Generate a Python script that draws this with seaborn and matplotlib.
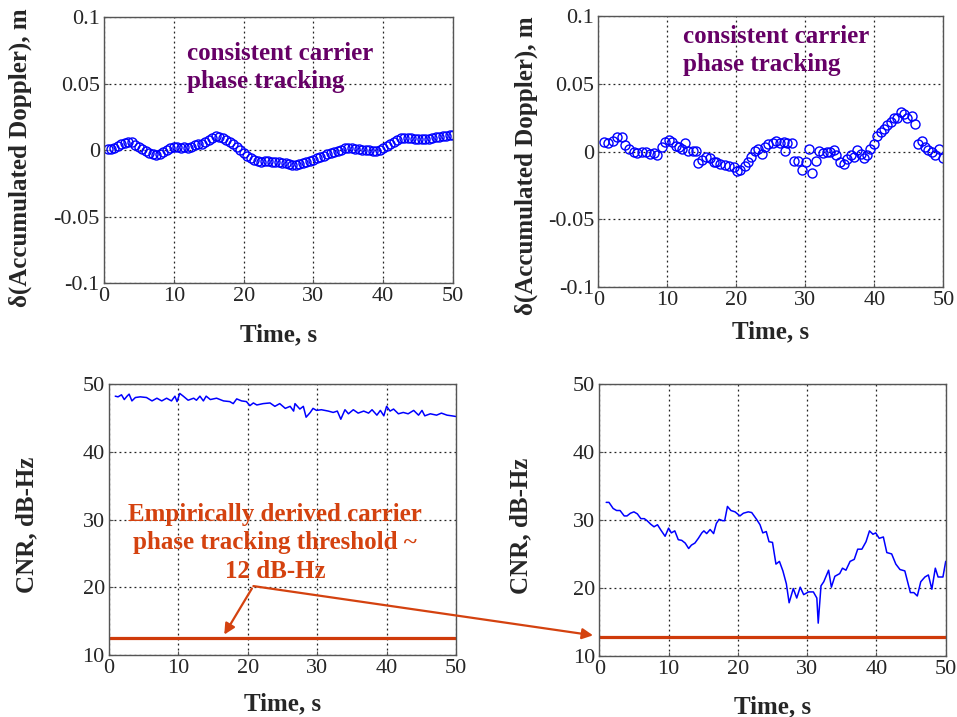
import numpy as np
import matplotlib
matplotlib.use("Agg")
import matplotlib.pyplot as plt
from matplotlib.patches import ConnectionPatch
import seaborn as sns

sns.set_style("ticks")
plt.rcParams["font.family"] = ["Liberation Serif", "DejaVu Serif"]
plt.rcParams["axes.unicode_minus"] = False

# 左上: 载波相位残差 (0.5 s 采样)
t_doppler_a = np.arange(0.5, 50.01, 0.5)
doppler_a = [
    1.0, 1.2, 1.8, 3.0, 4.5, 5.8, 6.5, 6.0, 4.2, 2.5,
    1.0, -0.5, -1.8, -3.0, -3.8, -3.0, -1.5, 0.0, 1.5, 2.8,
    2.5, 2.0, 2.2, 1.8, 2.8, 3.8, 4.5, 5.0, 6.0, 7.5,
    9.5, 10.5, 10.0, 9.2, 8.0, 6.5, 4.8, 2.8, 0.5, -2.0,
    -4.0, -5.8, -7.0, -8.0, -8.5, -8.2, -8.0, -8.5, -8.8, -8.5,
    -9.2, -9.8, -10.5, -11.0, -10.8, -10.2, -9.8, -9.0, -8.2, -7.0,
    -5.8, -4.8, -4.0, -3.0, -2.2, -1.5, -0.5, 0.5, 1.5, 2.0,
    1.8, 1.2, 0.8, 0.5, 0.2, 0.0, -0.5, -0.8, 0.0, 1.8,
    3.5, 5.0, 6.5, 8.0, 9.0, 9.5, 9.2, 9.0, 8.8, 8.5,
    8.2, 8.5, 8.8, 9.0, 9.8, 10.2, 10.8, 11.0, 11.5, 11.2,
]
doppler_a = np.array(doppler_a) * 1e-3

# 右上
t_doppler_b = [
    0.8, 1.45, 2.1, 2.75, 3.4, 3.9, 4.5, 5.1, 5.65, 6.3, 6.9, 7.5, 8.1, 8.55,
    9.2, 9.7, 10.2, 10.7, 11.25, 11.7, 12.2, 12.55, 13.0, 13.7, 14.15, 14.5,
    15.0, 15.6, 16.2, 16.7, 17.1, 17.7, 18.4, 19.0, 19.6, 20.1, 20.6, 21.3,
    21.7, 22.2, 22.7, 23.2, 23.7, 24.2, 24.6, 25.3, 25.8, 26.3, 26.9, 27.05,
    27.4, 28.0, 28.4, 29.0, 29.5, 30.1, 30.6, 31.0, 31.5, 32.0, 32.6, 33.1,
    33.6, 34.1, 34.5, 35.0, 35.6, 36.1, 36.6, 37.05, 37.5, 38.0, 38.5, 38.9,
    39.4, 39.95, 40.4, 40.9, 41.4, 41.9, 42.4, 42.85, 43.3, 43.8, 44.3, 44.8,
    45.4, 45.9, 46.4, 46.9, 47.3, 47.8, 48.3, 48.8, 49.4, 50.0,
]
doppler_b = [
    7.1, 6.0, 7.8, 10.7, 10.7, 4.6, 1.7, 0.0, -1.2, -0.7, 0.0, -2.0, -1.2, -2.4,
    3.0, 7.0, 8.5, 7.0, 4.0, 3.0, 2.0, 6.0, 0.5, 0.5, 0.5, -8.5,
    -6.0, -3.7, -5.0, -7.5, -8.0, -9.0, -9.8, -10.5, -11.7, -14.0, -13.4, -10.5,
    -7.5, -4.4, 0.5, 2.0, -2.0, 3.0, 5.4, 6.6, 7.8, 6.0, 7.1, 0.5,
    6.6, 6.0, -6.8, -6.8, -13.4, -7.6, 1.7, -15.9, -7.3, 0.5, -1.2, -0.2,
    -0.7, 1.2, -2.7, -7.6, -9.3, -5.6, -2.7, -4.4, 1.2, -2.0, -4.9, -2.7,
    2.0, 5.4, 11.5, 14.4, 16.3, 19.3, 22.0, 24.4, 24.9, 29.0, 27.3, 24.4,
    26.0, 20.0, 5.4, 7.8, 3.0, 1.2, -0.2, -2.7, 1.7, -5.1,
]
doppler_b = np.array(doppler_b) * 1e-3

# 左下: CNR
t_cnr_a = [
    0.9, 1.3, 1.8, 2.2, 2.6, 2.9, 3.3, 3.8, 4.5, 5.4, 6.2, 6.9, 7.6, 8.3,
    9.0, 9.5, 9.8, 10.2, 10.7, 11.4, 12.2, 12.6, 13.1, 13.6, 14.0, 14.6,
    15.5, 16.5, 17.4, 17.9, 18.4, 19.1, 19.8, 20.3, 20.8, 21.3, 22.2, 23.2,
    23.9, 24.6, 25.4, 26.1, 26.6, 26.8, 27.5, 28.0, 28.4, 29.0, 29.4, 29.9,
    30.6, 31.6, 32.3, 32.9, 33.4, 34.0, 34.5, 35.2, 35.9, 36.7, 37.4, 37.9,
    38.6, 39.1, 39.6, 40.0, 40.5, 41.0, 41.7, 42.4, 43.1, 43.9, 44.6, 45.1,
    45.5, 46.3, 47.2, 47.9, 48.7, 49.4, 50.0,
]
cnr_a = [
    48.2, 48.1, 48.4, 47.7, 48.2, 48.5, 47.5, 48.0, 48.1, 48.0, 47.5, 47.9, 47.5, 47.9,
    47.5, 48.2, 47.4, 48.6, 48.2, 47.6, 47.9, 47.6, 48.2, 47.5, 48.2, 47.7,
    47.9, 47.5, 47.4, 47.1, 47.8, 47.5, 47.4, 46.8, 47.2, 46.9, 47.1, 47.2,
    46.7, 47.1, 46.4, 46.7, 46.0, 47.1, 46.3, 46.7, 45.1, 45.8, 46.4, 46.1,
    46.2, 46.0, 45.8, 46.0, 44.8, 46.2, 45.6, 46.2, 45.7, 46.0, 45.7, 46.2,
    45.4, 46.1, 45.3, 46.7, 46.0, 46.3, 45.6, 45.8, 45.6, 46.1, 45.4, 46.1,
    45.3, 45.6, 45.4, 45.7, 45.4, 45.3, 45.2,
]

# 右下
t_cnr_b = [
    1.0, 1.4, 2.0, 2.5, 3.0, 3.6, 4.0, 4.5, 5.0, 5.5, 6.0, 6.5, 6.9, 7.4,
    7.9, 8.4, 8.9, 9.5, 10.0, 10.4, 10.9, 11.4, 11.9, 12.4, 12.9, 13.3,
    13.8, 14.3, 14.8, 15.1, 15.5, 16.0, 16.5, 16.9, 17.3, 17.8, 18.1, 18.5,
    19.0, 19.6, 20.3, 20.8, 21.5, 22.0, 22.7, 23.2, 23.6, 24.1, 24.5, 25.0,
    25.5, 26.0, 26.5, 27.0, 27.4, 28.0, 28.5, 29.0, 29.5, 30.2, 30.9, 31.4,
    31.6, 32.0, 32.4, 33.1, 33.5, 34.0, 34.7, 35.1, 35.6, 36.2, 36.8, 37.3,
    37.9, 38.5, 39.0, 39.5, 39.9, 40.4, 41.0, 41.5, 42.2, 42.8, 43.4, 44.1,
    44.9, 45.4, 45.9, 46.4, 47.0, 47.5, 48.0, 48.5, 48.9, 49.6, 50.0,
]
cnr_b = [
    32.6, 32.6, 31.7, 31.4, 31.4, 30.6, 30.6, 31.0, 31.2, 30.9, 30.2, 30.2, 29.9, 29.4,
    29.0, 29.3, 28.5, 27.6, 28.8, 28.1, 28.4, 27.1, 27.0, 26.6, 25.8, 26.3,
    26.6, 27.3, 28.1, 28.4, 28.0, 28.6, 28.0, 29.5, 30.1, 29.9, 29.9, 32.0,
    31.4, 31.2, 30.6, 31.0, 31.2, 31.1, 30.1, 29.3, 28.1, 28.3, 26.8, 26.7,
    23.5, 23.9, 22.5, 20.6, 17.8, 19.9, 18.5, 20.1, 19.0, 19.4, 19.4, 18.5,
    14.8, 20.3, 20.9, 22.6, 20.1, 21.7, 22.1, 22.9, 22.6, 23.9, 24.2, 25.7,
    25.7, 26.8, 28.4, 27.9, 28.1, 27.3, 27.5, 25.2, 25.0, 23.5, 22.7, 22.5,
    19.3, 19.3, 18.8, 20.9, 21.6, 21.9, 19.8, 22.9, 21.6, 21.6, 23.9,
]

threshold_a = 12.5
threshold_b = 12.8

blue = "#0000ff"
purple = "#660066"
orange = "#d4420f"
red_line = "#cf3a0a"

fig = plt.figure(figsize=(9.57, 7.17), dpi=100)
ax1 = fig.add_axes([0.1087, 0.6049, 0.3647, 0.371])
ax2 = fig.add_axes([0.6252, 0.5993, 0.3605, 0.3788])
ax3 = fig.add_axes([0.1139, 0.0861, 0.3626, 0.3784])
ax4 = fig.add_axes([0.6262, 0.0855, 0.3620, 0.3785])

sns.lineplot(x=t_doppler_a, y=doppler_a, ax=ax1, marker="o", linestyle="",
             mfc="none", mec=blue, ms=6.5, mew=1, sort=False, estimator=None)
sns.lineplot(x=t_doppler_b, y=doppler_b, ax=ax2, marker="o", linestyle="",
             mfc="none", mec=blue, ms=6.5, mew=1, sort=False, estimator=None)
sns.lineplot(x=t_cnr_a, y=cnr_a, ax=ax3, color=blue, lw=1.1, sort=False, estimator=None)
sns.lineplot(x=t_cnr_b, y=cnr_b, ax=ax4, color=blue, lw=1.1, sort=False, estimator=None)
ax3.axhline(threshold_a, color=red_line, lw=2.3)
ax4.axhline(threshold_b, color=red_line, lw=2.3)

for ax in [ax1, ax2]:
    ax.set_ylim(-0.1, 0.1)
    ax.set_yticks([-0.1, -0.05, 0, 0.05, 0.1], ["-0.1", "-0.05", "0", "0.05", "0.1"])
    ax.set_ylabel("δ(Accumulated Doppler), m", fontsize=18, fontweight="bold")
for ax in [ax3, ax4]:
    ax.set_ylim(10, 50)
    ax.set_yticks([10, 20, 30, 40, 50])
    ax.set_ylabel("CNR, dB-Hz", fontsize=18, fontweight="bold")

for ax in [ax1, ax2, ax3, ax4]:
    ax.set_xlim(0, 50)
    ax.set_xticks([0, 10, 20, 30, 40, 50])
    ax.set_xlabel("Time, s", fontsize=18, fontweight="bold")
    ax.grid(True, color="#222222", linestyle=(0, (1.5, 2.5)), linewidth=0.9)
    ax.tick_params(direction="in", length=3, labelsize=16, pad=3, color="#555555")
    for sp in ax.spines.values():
        sp.set_color("#555555")
        sp.set_linewidth(1.0)

ax1.yaxis.set_label_coords(-0.206, 0.473)
ax2.yaxis.set_label_coords(-0.174, 0.447)
ax3.yaxis.set_label_coords(-0.205, 0.48)
ax4.yaxis.set_label_coords(-0.194, 0.48)
ax1.xaxis.set_label_coords(0.5, -0.15)
ax2.xaxis.set_label_coords(0.5, -0.122)
ax3.xaxis.set_label_coords(0.5, -0.137)
ax4.xaxis.set_label_coords(0.5, -0.145)

note = "consistent carrier\nphase tracking"
ax1.text(0.238, 0.812, note, transform=ax1.transAxes, color=purple,
         fontsize=18, fontweight="bold", va="center", ha="left", linespacing=1.3)
ax2.text(0.245, 0.872, note, transform=ax2.transAxes, color=purple,
         fontsize=18, fontweight="bold", va="center", ha="left", linespacing=1.3)

ax3.text(0.478, 0.415, "Empirically derived carrier\nphase tracking threshold ~\n12 dB-Hz",
         transform=ax3.transAxes, color=orange, fontsize=18, fontweight="bold",
         ha="center", va="center", multialignment="center", linespacing=1.3)

arrow_start = (20.8, 20.2)
ax3.annotate("", xy=(16.4, 12.7), xytext=arrow_start,
             arrowprops=dict(arrowstyle="-|>", color=orange, lw=1.6, mutation_scale=16))
con = ConnectionPatch(xyA=arrow_start, coordsA=ax3.transData,
                      xyB=(-0.9, 13.0), coordsB=ax4.transData,
                      arrowstyle="-|>", color=orange, lw=1.6, mutation_scale=16)
fig.add_artist(con)

fig.savefig("out.png", dpi=100, facecolor="white")
